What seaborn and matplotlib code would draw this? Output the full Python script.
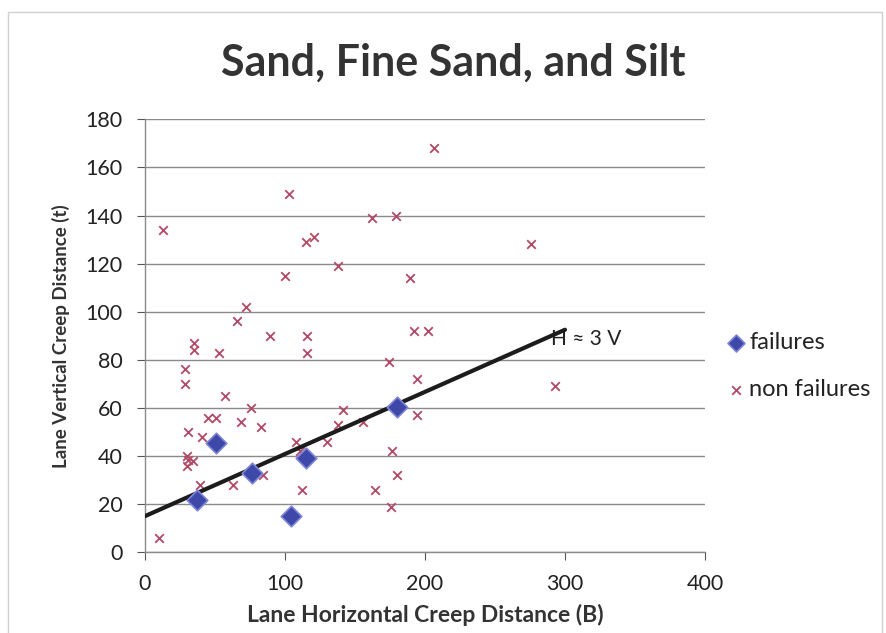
import matplotlib
matplotlib.use("Agg")
import matplotlib.pyplot as plt
import seaborn as sns
import pandas as pd
from matplotlib.patches import Rectangle

# Lane creep distances: failures
fail_h = [36.9, 50.7, 76.7, 104.1, 114.8, 180.2]
fail_v = [21.7, 45.3, 33.1, 15.1, 39.2, 60.2]

# Lane creep distances: non failures
ok_h = [10, 13, 28.5, 28.5, 30.5, 30, 34.5, 30, 31, 35, 35, 40.5, 39, 45, 51,
        53, 57, 62.5, 66, 68.5, 72, 75.5, 82.5, 84.5, 89, 100, 103, 108, 111,
        112, 115, 116, 116, 120.5, 130, 137.5, 138, 141.5, 156, 162, 164, 174.5,
        176.5, 180, 176, 179.5, 189, 192, 194.5, 194.5, 202, 206.5, 275.5, 292.5]
ok_v = [6, 134, 76, 70, 50, 40, 38, 36, 38.5, 87, 84, 48, 28, 56, 56,
        83, 65, 28, 96, 54, 102, 60, 52, 32, 90, 115, 149, 46, 42,
        26, 129, 90, 83, 131, 46, 119, 53, 59, 54, 139, 26, 79,
        42, 32, 19, 140, 114, 92, 72, 57, 92, 168, 128, 69]

# Trend line H ~ 3V
trend_h = [0, 300]
trend_v = [15, 92.5]

x_ticks = [0, 100, 200, 300, 400]
y_ticks = [0, 20, 40, 60, 80, 100, 120, 140, 160, 180]

sns.set_theme(style="white")
plt.rcParams["font.family"] = ["Lato", "DejaVu Sans"]

fig = plt.figure(figsize=(8.87, 6.33), dpi=100)
ax = fig.add_axes([145 / 887, 1 - 552.2 / 633, 560 / 887, (552.2 - 119.3) / 633])

fail_df = pd.DataFrame({"H": fail_h, "V": fail_v})
ok_df = pd.DataFrame({"H": ok_h, "V": ok_v})
line_df = pd.DataFrame({"H": trend_h, "V": trend_v})

sns.scatterplot(data=ok_df, x="H", y="V", marker="x", s=38, color="#B24A66",
                linewidth=1.3, ax=ax, label="non failures", zorder=3)
sns.lineplot(data=line_df, x="H", y="V", color="#1c1c1c", linewidth=3.0,
             ax=ax, zorder=4, legend=False)
sns.scatterplot(data=fail_df, x="H", y="V", marker="D", s=110, color="#3E48A8",
                edgecolor="#7F86D8", linewidth=1.2, ax=ax, label="failures", zorder=5)

ax.text(290, 88.5, "H \u2248 3 V", fontsize=15, color="#222222", va="center", ha="left")

ax.set_xlim(0, 400)
ax.set_ylim(0, 180)
ax.set_xticks(x_ticks)
ax.set_yticks(y_ticks)
ax.tick_params(axis="both", labelsize=15.5, colors="#555555", length=6, width=0.8,
               direction="out", left=True, bottom=True)
ax.tick_params(axis="y", pad=10)
ax.tick_params(axis="x", pad=10)
ax.tick_params(axis="both", labelcolor="#222222")
ax.grid(axis="y", color="#8a8a8a", linewidth=1.0)
ax.grid(axis="x", visible=False)
for side in ["top", "right"]:
    ax.spines[side].set_visible(False)
for side in ["left", "bottom"]:
    ax.spines[side].set_color("#8a8a8a")
    ax.spines[side].set_linewidth(1.0)

ax.set_xlabel("Lane Horizontal Creep Distance (B)", fontsize=16.5, fontweight="bold",
              color="#333333", labelpad=7)
ax.set_ylabel("Lane Vertical Creep Distance (t)", fontsize=13.5, fontweight="bold",
              color="#333333", labelpad=11)

fig.text(453 / 887, 1 - 63 / 633, "Sand, Fine Sand, and Silt", fontsize=31,
         fontweight="bold", color="#333333", ha="center", va="center")

handles, labels = ax.get_legend_handles_labels()
order = [labels.index("failures"), labels.index("non failures")]
leg = ax.legend([handles[i] for i in order], [labels[i] for i in order],
                loc="center left", bbox_to_anchor=(703 / 887, 1 - 366 / 633),
                bbox_transform=fig.transFigure, frameon=False, fontsize=17,
                handletextpad=0.05, labelspacing=1.1, handlelength=1.0,
                labelcolor="#222222")
leg.legend_handles[0].set_sizes([75])

# light frame around the chart area
fig.patches.append(Rectangle((8 / 887, -0.05), 874 / 887, 1 - 12 / 633 + 0.05,
                             transform=fig.transFigure, fill=False,
                             edgecolor="#d0d0d0", linewidth=1.0))

fig.savefig("out.png", dpi=100, facecolor="white")
